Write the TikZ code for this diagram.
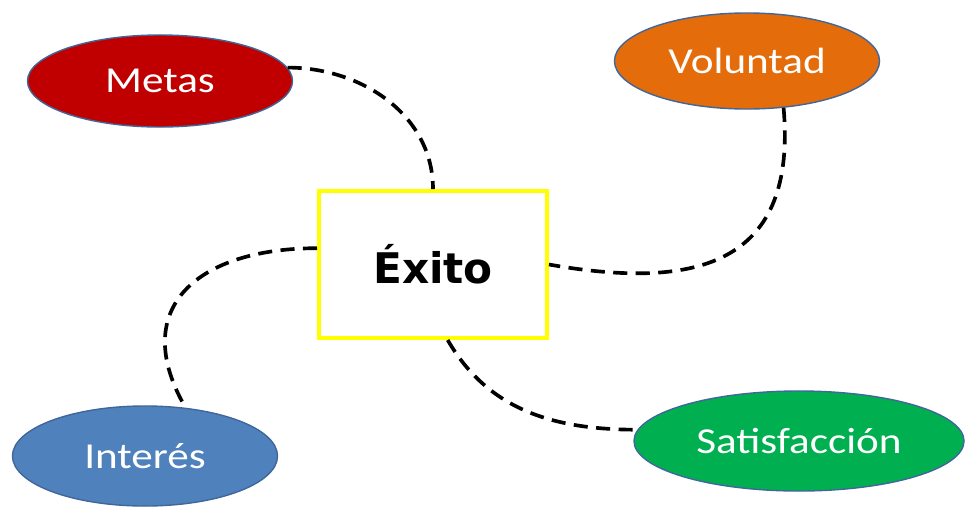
\documentclass[tikz,border=0pt]{standalone}
\usepackage{fontspec}
\setmainfont{Carlito}[FakeStretch=1.18]
\newfontfamily\boldtitle{DejaVu Sans}
\usepackage{tikz}
\usetikzlibrary{shapes.geometric}

\definecolor{rimblue}{HTML}{41679A}
\definecolor{metasred}{HTML}{C00000}
\definecolor{volorange}{HTML}{E46C0A}
\definecolor{intblue}{HTML}{4F81BD}
\definecolor{satgreen}{HTML}{00B050}
\definecolor{coreyellow}{HTML}{FFFF00}

\begin{document}
\begin{tikzpicture}[
        x=0.025cm, y=-0.025cm,
        idea/.style={ellipse, draw=rimblue, line width=1pt, inner sep=0pt,
                     minimum width=6.625cm, text=white,
                     font=\fontsize{26}{30}\selectfont},
        core/.style={rectangle, draw=coreyellow, line width=2.8pt, fill=white,
                     minimum width=5.7cm, minimum height=3.675cm,
                     font=\boldtitle\bfseries\fontsize{30}{34}\selectfont},
        link/.style={draw, black, line width=2.6pt, dash pattern=on 10pt off 6pt}
    ]
    \useasboundingbox (0,0) rectangle (966,508);

    \node [core] (exito) at (433,264.5) {Éxito};
    \node [idea, fill=metasred, minimum height=2.3cm] (metas) at (160,81) {Metas};
    \node [idea, fill=volorange, minimum height=2.4cm] (voluntad) at (747,61) {Voluntad};
    \node [idea, fill=intblue, minimum height=2.5cm] (interes) at (145,456) {Interés};
    \node [idea, fill=satgreen, minimum width=8.25cm, minimum height=2.5cm] (satisf) at (799,441) {Satisfacción};

    \draw [link] (metas.6) to[out=0, in=90] (exito.north);
    \draw [link] (voluntad.-52) to[out=-85, in=-10, looseness=1.4] (exito.east);
    \draw [link] (exito.172) to[out=180, in=120, looseness=1.45] (interes.50);
    \draw [link] (exito.-79) to[out=-60, in=180] (satisf.176);
\end{tikzpicture}
\end{document}
